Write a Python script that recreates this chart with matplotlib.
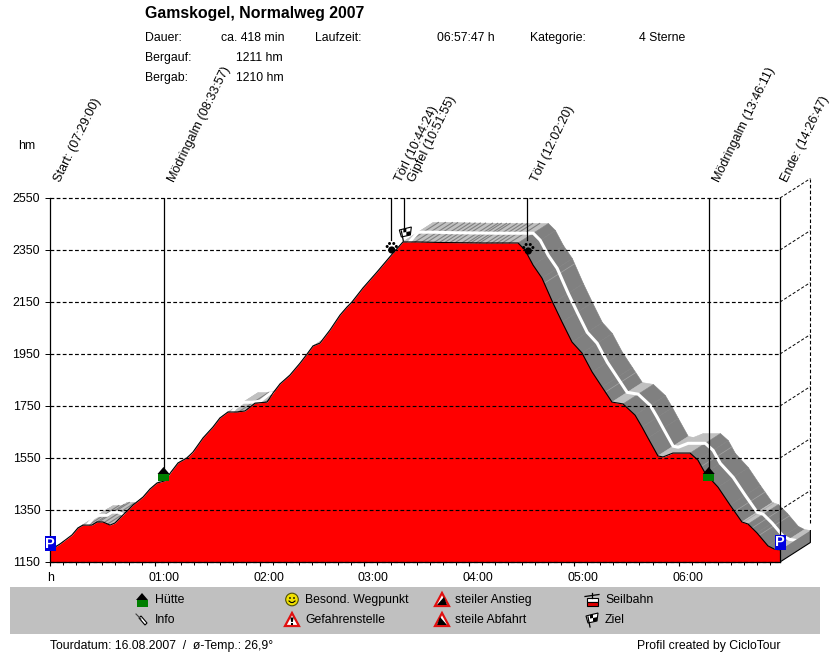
import numpy as np
import matplotlib
matplotlib.use("Agg")
import matplotlib.pyplot as plt
from matplotlib.patches import Polygon, Rectangle, Circle
from matplotlib.ticker import FixedLocator
from matplotlib.transforms import ScaledTranslation

plt.rcParams['font.family'] = ['Liberation Sans', 'DejaVu Sans']

# ---------- data ----------
minutes = [0, 5.7, 12.6, 16.0, 18.9, 24.0, 26.9, 30.3, 34.4, 37.2, 41.8, 47.5, 53.3, 57.3, 61.3, 65.8,
           69.3, 73.3, 78.4, 81.9, 87.6, 93.3, 97.3, 101.9, 107.1, 111.7, 117.4, 124.3, 127.7, 131.7,
           137.4, 143.2, 147.2, 150.6, 154.6, 160.3, 166.1, 170.1, 172.9, 179.2, 187.2, 196.4, 202.1,
           210.1, 223.0, 247.9, 268.0, 272.0, 276.6, 281.7, 288.0, 293.2, 298.9, 304.6, 310.4, 316.1,
           321.8, 328.1, 335.0, 339.0, 342.4, 348.1, 351.0, 356.7, 366.5, 371.0, 375.1, 382.5, 389.4,
           396.2, 399.7, 404.8, 411.1, 414.6, 418]
height = [1196, 1219, 1254, 1281, 1292, 1292, 1304, 1304, 1292, 1300, 1331, 1369, 1400, 1431, 1454, 1462,
          1496, 1531, 1550, 1573, 1627, 1669, 1704, 1727, 1727, 1731, 1761, 1765, 1800, 1835,
          1869, 1915, 1950, 1981, 1992, 2042, 2100, 2131, 2150, 2204, 2265, 2338, 2381,
          2381, 2379, 2377, 2377, 2350, 2292, 2242, 2146, 2073, 1996, 1954, 1881, 1823,
          1765, 1758, 1715, 1669, 1627, 1558, 1554, 1569, 1569, 1542, 1492, 1438, 1369,
          1304, 1296, 1262, 1212, 1200, 1196]

event_names = ["Start: (07:29:00)", "Mödringalm (08:33:57)", "Törl (10:44:24)", "Gipfel (10:51:55)",
               "Törl (12:02:20)", "Mödringalm (13:46:11)", "Ende: (14:26:47)"]
event_minutes = [0, 65.0, 195.4, 202.9, 273.3, 377.2, 417.8]
event_stops = [1210, 1500, 2390, 2430, 2390, 1500, 1210]

ytick_values = [1150, 1350, 1550, 1750, 1950, 2150, 2350, 2550]
xtick_minutes = [0, 60, 120, 180, 240, 300, 360]
xtick_labels = ["h", "01:00", "02:00", "03:00", "04:00", "05:00", "06:00"]
dark_streaks = [22, 25, 28, 31, 33, 108, 113, 119, 123, 205, 209, 213, 216, 220, 223, 226, 229, 232, 236,
                239, 241, 244, 246, 250, 253, 256, 259, 263]
light_streaks = [283, 318, 373, 392, 397, 402, 406]

# ---------- layout ----------
W, H = 830, 652
XMAX = 418.0
YMIN, YMAX = 1150, 2550
L, R, TOP, BOT = 50, 780, 198, 562
DX, DY = 17.4, 75.0   # depth of the pseudo 3D ribbon, data units
RED, DARK, LIGHT = '#ff0000', '#808080', '#c0c0c0'

fig = plt.figure(figsize=(W / 100, H / 100), dpi=100, facecolor='white')
ax = fig.add_axes([L / W, 1 - BOT / H, (R - L) / W, (BOT - TOP) / H])
ax.set_xlim(0, XMAX)
ax.set_ylim(YMIN, YMAX)
ax.patch.set_visible(False)

t = np.array(minutes)
h = np.array(height)

# ribbon behind the profile
for i in range(len(t) - 1):
    slope = (h[i + 1] - h[i]) / (t[i + 1] - t[i])
    col = LIGHT if slope > -3.0 else DARK
    ax.add_patch(Polygon([(t[i], h[i]), (t[i + 1], h[i + 1]),
                          (t[i + 1] + DX, h[i + 1] + DY), (t[i] + DX, h[i] + DY)],
                         closed=True, fc=col, ec=col, lw=0.4, zorder=1, clip_on=False))
for s in dark_streaks:
    y0 = np.interp(s, t, h)
    ax.plot([s, s + DX], [y0, y0 + DY], color='#808080', lw=0.8, zorder=1.2, clip_on=False)
for s in light_streaks:
    y0 = np.interp(s, t, h)
    ax.plot([s, s + DX], [y0, y0 + DY], color='#a4a4a4', lw=0.5, zorder=1.2, clip_on=False)
ax.plot(t + DX / 2, h + DY / 2, color='white', lw=2.2, zorder=1.5, clip_on=False, solid_joinstyle='round')

# end wall of the ribbon
ax.add_patch(Polygon([(t[-1], YMIN), (t[-1] + DX, YMIN + DY), (t[-1] + DX, h[-1] + DY), (t[-1], h[-1])],
                     closed=True, fc=DARK, ec='none', zorder=1.6, clip_on=False))
ax.plot([t[-1], t[-1] + DX, t[-1] + DX], [YMIN, YMIN + DY, h[-1] + DY], color='black', lw=0.8,
        zorder=1.7, clip_on=False)

# profile
ax.fill_between(t, YMIN, h, color=RED, lw=0, zorder=2)
ax.plot(t, h, color='black', lw=0.8, zorder=2.5)

# grid
dash = (0, (3.2, 2.0))
for y in ytick_values:
    ax.plot([0, XMAX], [y, y], color='black', lw=0.85, ls=dash, zorder=3, clip_on=False)
    if y > YMIN:
        ax.plot([XMAX, XMAX + DX], [y, y + DY], color='black', lw=0.7, ls=dash, zorder=3, clip_on=False)
ax.plot([XMAX + DX, XMAX + DX], [YMIN + 2 * DY, YMAX + DY], color='black', lw=0.8, ls=dash, zorder=3, clip_on=False)

# event lines
for m, stop in zip(event_minutes[1:-1], event_stops[1:-1]):
    ax.plot([m, m], [stop, YMAX], color='black', lw=0.9, zorder=3.5)

for s in ['top']:
    ax.spines[s].set_visible(False)
for s in ['left', 'right', 'bottom']:
    ax.spines[s].set_linewidth(0.9)
    ax.spines[s].set_zorder(4)

ax.set_yticks(ytick_values)
ax.set_yticklabels([str(v) for v in ytick_values], fontsize=8.9)
ax.tick_params(axis='y', length=3.6, width=0.7, pad=3.4)
ax.set_xticks(xtick_minutes)
ax.set_xticklabels(xtick_labels, fontsize=8.9)
ax.xaxis.set_minor_locator(FixedLocator(np.arange(0, XMAX, 7.5)))
ax.tick_params(axis='x', which='major', length=3, width=0.8, pad=4.5)
ax.tick_params(axis='x', which='minor', length=1.8, width=0.7)
for i, lab in enumerate(ax.get_xticklabels()):
    shift = 1 / 100 if i == 0 else 9 / 100
    lab.set_transform(lab.get_transform() + ScaledTranslation(shift, 0, fig.dpi_scale_trans))

# ---------- pixel overlay: texts and icons ----------
pa = fig.add_axes([0, 0, 1, 1], zorder=5)
pa.set_xlim(0, W)
pa.set_ylim(H, 0)
pa.axis('off')
pa.patch.set_visible(False)


def px(m):
    return L + m * (R - L) / XMAX


def txt(x, y, s, **kw):
    kw.setdefault('fontsize', 8.8)
    kw.setdefault('va', 'center')
    pa.text(x, y, s, **kw)


def poly(pts, **kw):
    pa.add_patch(Polygon(pts, closed=True, **kw))


def hut(cx, cy):
    poly([(cx - 6, cy), (cx, cy - 7), (cx + 6, cy)], fc='black', ec='none')
    pa.add_patch(Rectangle((cx - 5.5, cy), 11, 7, fc='#007f00', ec='none'))


def parking(cx, cy):
    pa.add_patch(Rectangle((cx - 5.5, cy - 7.5), 11, 15, fc='#0000e0', ec='none'))
    pa.text(cx, cy, 'P', color='white', fontsize=10.5, fontweight='bold', ha='center', va='center')


def paw(cx, cy):
    pa.add_patch(Circle((cx, cy + 2), 3.6, fc='black', ec='none'))
    for dx, dy in [(-4.6, -1.5), (-2.2, -4.5), (2, -4.5), (4.6, -1.5)]:
        pa.add_patch(Circle((cx + dx, cy + dy), 1.5, fc='black', ec='none'))


def flag(cx, cy):
    pa.plot([cx - 4, cx - 2], [cy - 3, cy + 7], color='black', lw=0.9)
    poly([(cx - 6, cy - 4), (cx + 6, cy - 7), (cx + 5, cy + 1), (cx - 4, cy + 3)], fc='white', ec='black', lw=0.8)
    poly([(cx - 2, cy - 5), (cx + 1, cy - 5.7), (cx + 1, cy - 2), (cx - 2, cy - 1.5)], fc='black', ec='none')
    poly([(cx + 1, cy - 2), (cx + 5, cy - 2.8), (cx + 5, cy + 0.8), (cx + 1, cy + 1.6)], fc='black', ec='none')


def warning(cx, cy, kind):
    poly([(cx - 7, cy + 6), (cx, cy - 7), (cx + 7, cy + 6)], fc='white', ec='#e01010', lw=1.6)
    if kind == 'danger':
        poly([(cx - 1.6, cy - 2.5), (cx + 1.6, cy - 2.5), (cx + 0.8, cy + 2), (cx - 0.8, cy + 2)], fc='black', ec='none')
        pa.add_patch(Rectangle((cx - 1.2, cy + 2.6), 2.4, 2, fc='black', ec='none'))
    elif kind == 'up':
        poly([(cx - 5, cy + 5), (cx + 2, cy - 3), (cx + 5, cy + 5)], fc='black', ec='none')
    else:
        poly([(cx - 5, cy + 5), (cx - 2, cy - 3), (cx + 5, cy + 5)], fc='black', ec='none')


def smiley(cx, cy):
    pa.add_patch(Circle((cx, cy), 6.3, fc='#f0e000', ec='#505000', lw=0.8))
    pa.add_patch(Circle((cx - 2, cy - 1.5), 0.9, fc='black', ec='none'))
    pa.add_patch(Circle((cx + 2, cy - 1.5), 0.9, fc='black', ec='none'))
    pa.plot([cx - 3, cx - 1, cx + 1, cx + 3], [cy + 1.5, cy + 3, cy + 3, cy + 1.5], color='black', lw=0.8)


def pin(cx, cy):
    pa.plot([cx - 6, cx - 1], [cy - 6, cy - 1], color='#404040', lw=0.8)
    poly([(cx - 3, cy - 2), (cx - 1, cy - 4), (cx + 5, cy + 3), (cx + 3, cy + 5)], fc='white', ec='black', lw=0.8)


def gondola(cx, cy):
    pa.plot([cx - 7, cx + 7], [cy - 3, cy - 5], color='black', lw=0.9)
    pa.plot([cx, cx], [cy - 7, cy - 2], color='black', lw=0.9)
    pa.add_patch(Rectangle((cx - 5.5, cy - 2), 11, 4, fc='white', ec='black', lw=0.8))
    pa.add_patch(Rectangle((cx - 5.5, cy + 2), 11, 4.5, fc='#e00000', ec='black', lw=0.8))


# header
txt(145, 13.5, "Gamskogel, Normalweg 2007", fontsize=11.4, fontweight='bold')
txt(145, 38, "Dauer:")
txt(145, 58, "Bergauf:")
txt(145, 78, "Bergab:")
txt(221, 38, "ca. 418 min")
txt(236, 58, "1211 hm")
txt(236, 78, "1210 hm")
txt(315, 38, "Laufzeit:")
txt(437, 38, "06:57:47 h")
txt(530, 38, "Kategorie:")
txt(639, 38, "4 Sterne")
txt(18, 146, "hm")

# rotated labels
for name, m in zip(event_names, event_minutes):
    shift = 10.5 if m == event_minutes[-1] else 13
    pa.text(px(m) + shift, 184, name, rotation=64, rotation_mode='anchor', ha='left', va='bottom', fontsize=9.1)

# icons on the profile
parking(px(0), 543.5)
parking(px(XMAX), 542.5)
hut(px(event_minutes[1]), 474)
hut(px(event_minutes[5]), 474)
paw(px(event_minutes[2]) + 0.5, 248)
paw(px(event_minutes[4]) + 1, 249)
flag(px(event_minutes[3]) + 1, 234)

# legend band
pa.add_patch(Rectangle((10, 587), 810, 47, fc='#c0c0c0', ec='none', zorder=0))
hut(142, 600)
txt(155, 600, "Hütte")
pin(142, 620)
txt(155, 620, "Info")
smiley(292, 599.5)
txt(305, 600, "Besond. Wegpunkt")
warning(292, 620, 'danger')
txt(305, 620, "Gefahrenstelle")
warning(442, 600, 'up')
txt(455, 600, "steiler Anstieg")
warning(442, 620, 'down')
txt(455, 620, "steile Abfahrt")
gondola(592, 599.5)
txt(605, 600, "Seilbahn")
flag(592, 620)
txt(605, 620, "Ziel")

# footer
txt(50, 646.5, "Tourdatum: 16.08.2007  /  ø-Temp.: 26,9°")
txt(637, 646.5, "Profil created by CicloTour")

fig.savefig("out.png", dpi=100)
